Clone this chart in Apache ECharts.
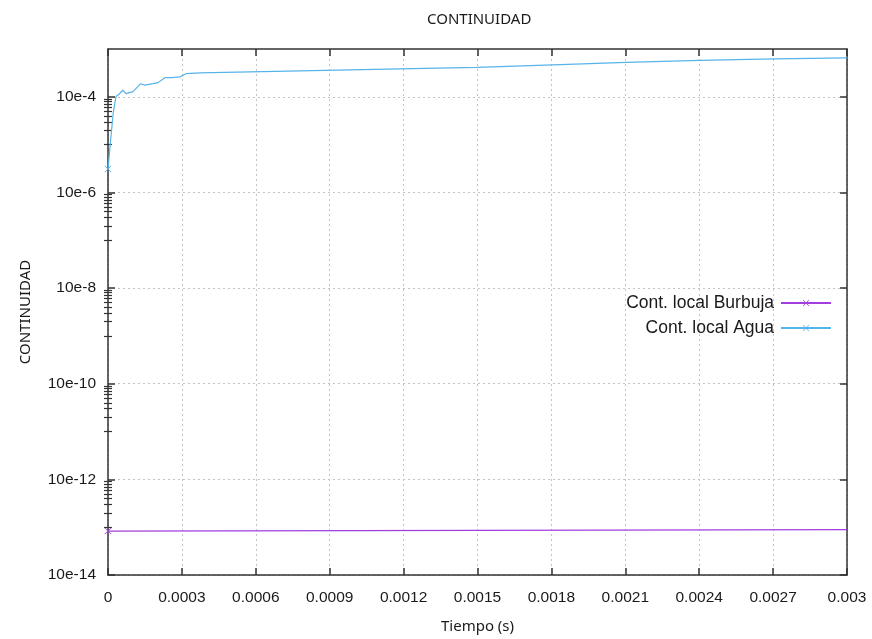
<!DOCTYPE html>
<html>
<head>
<meta charset="utf-8">
<script src="https://cdn.jsdelivr.net/npm/echarts@6/dist/echarts.min.js"></script>
<style>html,body{margin:0;padding:0;background:#fff;}#c{width:872px;height:639px;}</style>
</head>
<body>
<div id="c"></div>
<script>
// ---- data ----
const tiempoAgua = [0, 1.1e-5, 2.15e-5, 3.25e-5, 4.47e-5, 5.97e-5, 7.31e-5, 1.015e-4, 1.327e-4, 1.5e-4, 1.83e-4, 2.03e-4, 2.31e-4, 2.6e-4, 2.92e-4, 3.17e-4, 3.73e-4, 5.76e-4, 7.79e-4, 1.185e-3, 1.498e-3, 1.806e-3, 2.103e-3, 2.403e-3, 2.707e-3, 3.0e-3];
const contAgua = [3.1e-6, 1.3e-5, 4.75e-5, 1.02e-4, 1.13e-4, 1.37e-4, 1.17e-4, 1.28e-4, 1.88e-4, 1.76e-4, 1.88e-4, 1.98e-4, 2.51e-4, 2.51e-4, 2.61e-4, 3.05e-4, 3.17e-4, 3.32e-4, 3.49e-4, 3.84e-4, 4.12e-4, 4.65e-4, 5.24e-4, 5.77e-4, 6.21e-4, 6.51e-4];
const tiempoBurbuja = [0, 0.001, 0.002, 0.003];
const contBurbuja = [8.3e-14, 8.5e-14, 8.7e-14, 8.9e-14];
const seriesNames = ['Cont. local Burbuja', 'Cont. local Agua'];
const yMajor = [1e-14, 1e-12, 1e-10, 1e-8, 1e-6, 1e-4];
const yMinorMultipliers = [1, 2, 3, 4, 5, 6, 7, 8, 9];
const yMinorBases = [1e-13, 1e-11, 1e-9, 1e-7, 1e-5];

// ---- build ----
const yMinor = [];
yMinorBases.forEach(b => yMinorMultipliers.forEach(m => yMinor.push(m * b)));
const pair = (xs, ys) => xs.map((x, i) => [x, ys[i]]);
const X = 'path://M0,0.7L0.7,0L5,4.3L9.3,0L10,0.7L5.7,5L10,9.3L9.3,10L5,5.7L0.7,10L0,9.3L4.3,5Z';
const axisCol = '#333';
const txtCol = '#1a1a1a';
const lab = { fontFamily: 'Liberation Sans', fontSize: 15.5, color: txtCol };

const chart = echarts.init(document.getElementById('c'), null, { renderer: 'canvas' });
const yBase = { type: 'log', logBase: 10, min: 1e-14, max: 1e-3, gridIndex: 0 };
chart.setOption({
  animation: false,
  backgroundColor: '#fff',
  title: {
    text: 'CONTINUIDAD', left: 422, top: 7,
    textStyle: { fontFamily: 'Noto Sans', fontSize: 15, fontWeight: 'normal', color: txtCol }
  },
  legend: {
    orient: 'vertical', right: 35, top: 289, align: 'right',
    itemWidth: 50, itemHeight: 8, itemGap: 7,
    data: seriesNames,
    textStyle: { fontFamily: 'Liberation Sans', fontSize: 17.5, color: txtCol, lineHeight: 18, padding: [0, 2, 0, 0] }
  },
  grid: { left: 108, right: 25, top: 49, bottom: 62, containLabel: false },
  xAxis: [
    {
      type: 'value', min: 0, max: 0.003, interval: 0.0003, position: 'bottom',
      name: 'Tiempo (s)', nameLocation: 'middle', nameGap: 44,
      nameTextStyle: { fontFamily: 'Noto Sans', fontSize: 15, color: txtCol },
      axisLine: { show: true, onZero: false, lineStyle: { color: axisCol, width: 1.5 } },
      axisTick: { show: true, inside: true, length: 7, lineStyle: { color: axisCol, width: 1.5 } },
      axisLabel: Object.assign({ margin: 15, formatter: v => v === 0 ? '0' : String(parseFloat(v.toPrecision(6))) }, lab),
      splitLine: { show: true, lineStyle: { color: '#c4c4c4', type: [2, 3], width: 1 } }
    },
    {
      type: 'value', min: 0, max: 0.003, interval: 0.0003, position: 'top',
      axisLine: { show: true, onZero: false, lineStyle: { color: axisCol, width: 1.5 } },
      axisTick: { show: true, inside: true, length: 7, lineStyle: { color: axisCol, width: 1.5 } },
      axisLabel: { show: false }, splitLine: { show: false }
    }
  ],
  yAxis: [
    Object.assign({}, yBase, {
      position: 'left',
      name: 'CONTINUIDAD', nameLocation: 'middle', nameGap: 75, nameRotate: 90,
      nameTextStyle: { fontFamily: 'Noto Sans', fontSize: 15, color: txtCol },
      axisLine: { show: true, onZero: false, lineStyle: { color: axisCol, width: 1.5 } },
      axisTick: { show: true, inside: true, length: 7, customValues: yMajor, lineStyle: { color: axisCol, width: 1.5 } },
      axisLabel: Object.assign({ margin: 12, customValues: yMajor, formatter: v => '10e' + Math.round(Math.log10(v)) }, lab),
      splitLine: { show: true, lineStyle: { color: '#c4c4c4', type: [2, 3], width: 1 } },
      minorTick: { show: false }
    }),
    Object.assign({}, yBase, {
      position: 'left',
      axisLine: { show: false },
      axisTick: { show: true, inside: true, length: 4, customValues: yMinor, lineStyle: { color: axisCol, width: 1.2 } },
      axisLabel: { show: false }, splitLine: { show: false }
    }),
    Object.assign({}, yBase, {
      position: 'right',
      axisLine: { show: true, onZero: false, lineStyle: { color: axisCol, width: 1.5 } },
      axisTick: { show: true, inside: true, length: 7, customValues: yMajor, lineStyle: { color: axisCol, width: 1.5 } },
      axisLabel: { show: false }, splitLine: { show: false }
    }),
    Object.assign({}, yBase, {
      position: 'right',
      axisLine: { show: false },
      axisTick: { show: true, inside: true, length: 4, customValues: yMinor, lineStyle: { color: axisCol, width: 1.2 } },
      axisLabel: { show: false }, splitLine: { show: false }
    })
  ],
  series: [
    {
      name: seriesNames[0], type: 'line', xAxisIndex: 0, yAxisIndex: 0,
      data: pair(tiempoBurbuja, contBurbuja),
      symbol: X, symbolSize: (v, p) => p.dataIndex === 0 ? 7 : 0, showSymbol: true,
      color: '#a23fdc', lineStyle: { width: 1.3, color: '#a23fdc' }
    },
    {
      name: seriesNames[1], type: 'line', xAxisIndex: 0, yAxisIndex: 0,
      data: pair(tiempoAgua, contAgua),
      symbol: X, symbolSize: (v, p) => p.dataIndex === 0 ? 7 : 0, showSymbol: true,
      color: '#56b4e9', lineStyle: { width: 1.2, color: '#56b4e9' }
    }
  ]
});
</script>
</body>
</html>
